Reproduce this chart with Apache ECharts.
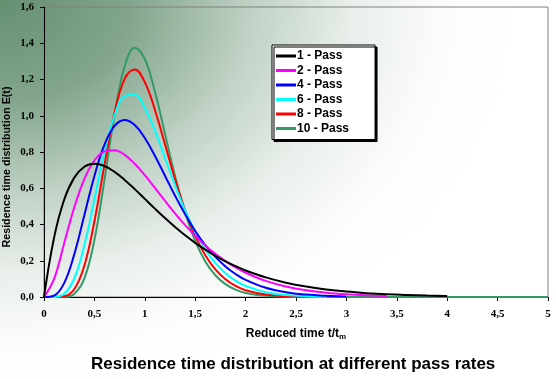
<!DOCTYPE html>
<html><head><meta charset="utf-8">
<script src="https://cdn.jsdelivr.net/npm/echarts@6/dist/echarts.min.js"></script>
<style>
html,body{margin:0;padding:0;}
body{width:556px;height:379px;background:radial-gradient(ellipse 520px 400px at 0px 0px,#668f70 0%,#82a58c 25%,#bfd1c4 48%,#e9efea 68%,#fbfcfb 85%,#ffffff 100%);}
#c{width:556px;height:379px;}
</style></head><body><div id="c"></div>
<script>
const xs = [0,0.1,0.2,0.3,0.4,0.5,0.6,0.7,0.8,0.9,1.0,1.1,1.2,1.3,1.4,1.5,1.6,1.7,1.8,1.9,2.0,2.2,2.4,2.6,2.8,3.0,3.2,3.4,3.6,3.8,4.0,4.5,5.0];
const names = ['1 - Pass','2 - Pass','4 - Pass','6 - Pass','8 - Pass','10 - Pass'];
const pass1 = [0,0.3275,0.5363,0.6586,0.7189,0.7358,0.7229,0.6905,0.6460,0.5951,0.5413,0.4875,0.4354,0.3862,0.3405,0.2987,0.2609,0.2270,0.1968,0.1702,0.1465,0.1081,0.0790,0.0574,0.0414,0.0297,0.0213,0.0151,0.0108,0.0076,0.0054];
const pass2 = [0,0.1000,0.2964,0.4940,0.6506,0.7531,0.8034,0.8102,0.7839,0.7349,0.6721,0.6024,0.5311,0.4618,0.3968,0.3375,0.2845,0.2379,0.1976,0.1631,0.1339,0.0889,0.0581,0.0374,0.0238,0.0150,0.0094,0.0058];
const pass4 = [0,0.0079,0.0766,0.2353,0.4511,0.6680,0.8402,0.9441,0.9771,0.9492,0.8773,0.7791,0.6693,0.5590,0.4562,0.3645,0.2863,0.2213,0.1687,0.1270,0.0946,0.0509,0.0265,0.0134,0.0067,0.0032];
const pass6 = [0,0.0006,0.0181,0.1021,0.2848,0.5397,0.8003,1.0021,1.1088,1.1162,1.0431,0.9175,0.7681,0.6167,0.4776,0.3588,0.2625,0.1875,0.1312,0.0901,0.0609,0.0266,0.0111,0.0044,0.0017];
const pass8 = [0,0.0000,0.0041,0.0424,0.1720,0.4169,0.7289,1.0172,1.2036,1.2554,1.1858,1.0333,0.8428,0.6498,0.4783,0.3376,0.2300,0.1519,0.0976,0.0611,0.0375,0.0133,0.0044,0.0014];
const pass10 = [0,0.0000,0.0009,0.0171,0.1012,0.3138,0.6468,1.0057,1.2725,1.3754,1.3132,1.1338,0.9009,0.6677,0.4664,0.3095,0.1964,0.1199,0.0707,0.0404,0.0225,0.0065,0.0017,0.0004,0,0,0,0,0,0,0,0,0];
const colors = ['#000000','#ff00ff','#0000ff','#00ffff','#ff0000','#339966'];
const xTicks = ['0','0,5','1','1,5','2','2,5','3','3,5','4','4,5','5'];
const yTicks = ['0,0','0,2','0,4','0,6','0,8','1,0','1,2','1,4','1,6'];

const all = [pass1,pass2,pass4,pass6,pass8,pass10];
const font = 'Liberation Sans, Arial, sans-serif';
const tickFont = 'Liberation Serif, Times New Roman, serif';
const chart = echarts.init(document.getElementById('c'), null, {renderer:'canvas'});
chart.setOption({
  backgroundColor:'transparent',
  animation:false,
  title:{text:'Residence time distribution at different pass rates',left:86,top:351,
    textStyle:{fontFamily:font,fontWeight:'bold',fontSize:17,color:'#000'}},
  grid:{left:44,right:8,top:7,bottom:82,show:true,borderColor:'#808080',borderWidth:1,backgroundColor:'transparent',
    outerBoundsMode:'none',containLabel:false},
  legend:{orient:'vertical',left:272,top:45,padding:[5,26,5,4],itemGap:2.5,itemWidth:20,itemHeight:3,
    icon:'rect',backgroundColor:'#fff',borderColor:'#000',borderWidth:1,
    shadowColor:'#000',shadowOffsetX:2,shadowOffsetY:2,shadowBlur:0,
    data:names,textStyle:{fontFamily:font,fontWeight:'bold',fontSize:12,color:'#000',padding:[0,0,0,-4]}},
  xAxis:{type:'value',min:0,max:5,interval:0.5,
    name:'{a|Reduced time t/t}{b|m}',nameLocation:'middle',nameGap:29,
    nameTextStyle:{rich:{a:{fontFamily:font,fontWeight:'bold',fontSize:12,color:'#000'},b:{fontFamily:font,fontWeight:'bold',fontSize:8,color:'#000',verticalAlign:'bottom',padding:[7,0,0,0]}}},
    axisLine:{lineStyle:{color:'#000',width:1}},axisTick:{length:4,lineStyle:{color:'#000'}},
    splitLine:{show:false},
    axisLabel:{fontFamily:tickFont,fontWeight:'bold',fontSize:11,color:'#000',margin:12,
      formatter:v=>xTicks[Math.round(v*2)]}},
  yAxis:{type:'value',min:0,max:1.6,interval:0.2,
    name:'Residence time distribution E(t)',nameLocation:'middle',nameGap:31,nameMoveOverlap:false,
    nameTextStyle:{fontFamily:font,fontWeight:'bold',fontSize:10.7,color:'#000',padding:[0,30,0,0]},
    axisLine:{show:true,lineStyle:{color:'#000',width:1}},axisTick:{show:true,length:4,lineStyle:{color:'#000'}},
    splitLine:{show:false},
    axisLabel:{fontFamily:tickFont,fontWeight:'bold',fontSize:11,color:'#000',margin:10,
      formatter:v=>yTicks[Math.round(v*5)]}},
  series: all.map((arr,i)=>({
    name:names[i],type:'line',smooth:0.4,symbol:'none',
    lineStyle:{color:colors[i],width:2},itemStyle:{color:colors[i]},
    data:arr.map((y,j)=>[xs[j],y]),z:10-i
  }))
});
</script></body></html>
